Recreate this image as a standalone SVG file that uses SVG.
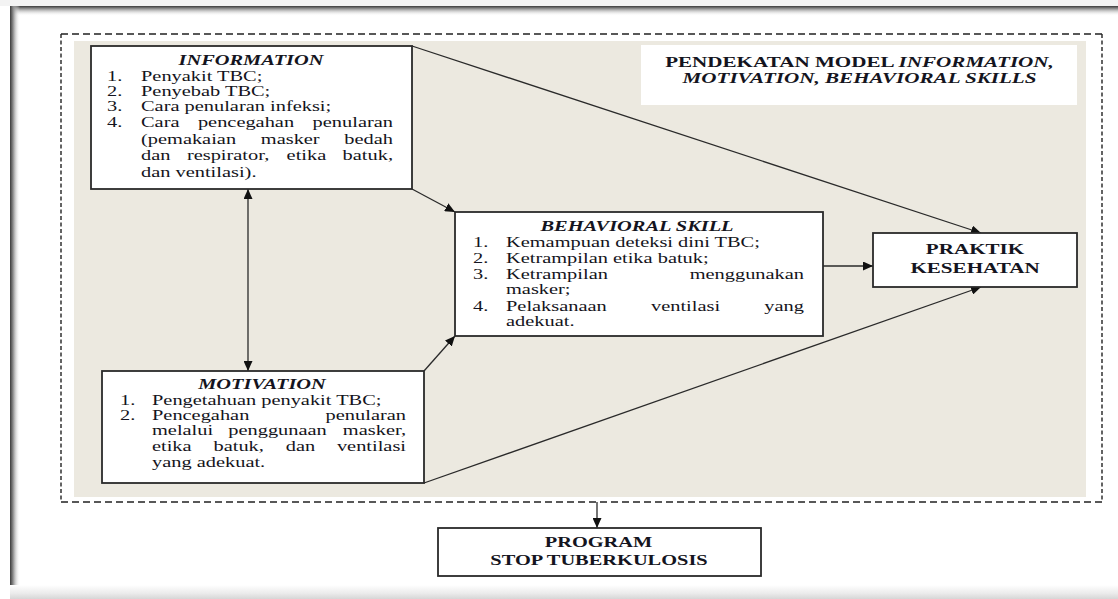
<svg xmlns="http://www.w3.org/2000/svg" width="1118" height="599" viewBox="0 0 1118 599">
<defs>
<style>
.t{font-family:"Liberation Serif","Times New Roman",serif;font-size:15px;fill:#141420;}
.b{font-weight:bold;}
.bi{font-weight:bold;font-style:italic;}
.i{font-style:italic;}
.e{text-anchor:end;}
.m{text-anchor:middle;}
.box{fill:#fff;stroke:#2a2a2a;stroke-width:1.8;}
.ln{stroke:#2a2a2a;stroke-width:1.3;fill:none;}
.dh{stroke:#222;stroke-width:1.4;stroke-dasharray:7 4;}
.dv{stroke:#222;stroke-width:1.4;stroke-dasharray:4 2.5;}
</style>
<marker id="ah" markerUnits="userSpaceOnUse" markerWidth="11" markerHeight="9" refX="10" refY="4.5" orient="auto-start-reverse" viewBox="0 0 11 9">
<path d="M0,0 L10,4.5 L0,9 z" fill="#111"/>
</marker>
<linearGradient id="gTop" x1="0" y1="0" x2="0" y2="1">
<stop offset="0" stop-color="#3a3a3a"/>
<stop offset="0.25" stop-color="#8a8a8a"/>
<stop offset="1" stop-color="#ffffff" stop-opacity="0"/>
</linearGradient>
<linearGradient id="gLeft" x1="0" y1="0" x2="1" y2="0">
<stop offset="0" stop-color="#3a3a3a"/>
<stop offset="0.3" stop-color="#8a8a8a"/>
<stop offset="1" stop-color="#ffffff" stop-opacity="0"/>
</linearGradient>
<linearGradient id="gBot" x1="0" y1="0" x2="0" y2="1">
<stop offset="0" stop-color="#ffffff"/>
<stop offset="0.6" stop-color="#ebebeb"/>
<stop offset="1" stop-color="#d6d6d6"/>
</linearGradient>
</defs>

<g id="page">
<rect x="0" y="0" width="1118" height="599" fill="#ffffff"/>
<rect x="0" y="0" width="1118" height="6" fill="#f3f3f3"/>
<rect x="10" y="6" width="1108" height="10" fill="url(#gTop)"/>
<rect x="10" y="6" width="10" height="593" fill="url(#gLeft)"/>
<rect x="10" y="585" width="1108" height="14" fill="url(#gBot)"/>
</g>

<g id="frame">
<rect x="74" y="41" width="1012" height="456" fill="#ECE9E0"/>
<line class="dh" x1="61" y1="34" x2="1102" y2="34"/>
<line class="dh" x1="61" y1="502" x2="1102" y2="502"/>
<line class="dv" x1="61" y1="34" x2="61" y2="502"/>
<line class="dv" x1="1102" y1="34" x2="1102" y2="502"/>
</g>

<g id="title">
<rect x="641" y="45" width="436" height="60" fill="#ffffff"/>
<text class="t b m" style="font-size:15.5px" transform="translate(859.5 67) scale(1.36 1)">PENDEKATAN MODEL <tspan class="i">INFORMATION,</tspan></text>
<text class="t bi m" style="font-size:15.5px" transform="translate(859.5 83) scale(1.36 1)">MOTIVATION, BEHAVIORAL SKILLS</text>
</g>

<g id="connectors">
<line class="ln" x1="412" y1="46" x2="981" y2="233" marker-end="url(#ah)"/>
<line class="ln" x1="412" y1="189" x2="455" y2="212" marker-end="url(#ah)"/>
<line class="ln" x1="823" y1="266" x2="873" y2="266" marker-end="url(#ah)"/>
<line class="ln" x1="424" y1="371" x2="455" y2="336" marker-end="url(#ah)"/>
<line class="ln" x1="424" y1="483" x2="981" y2="287" marker-end="url(#ah)"/>
<line class="ln" x1="248" y1="189" x2="248" y2="371" marker-start="url(#ah)" marker-end="url(#ah)"/>
<line class="ln" x1="597" y1="502" x2="597" y2="528" marker-end="url(#ah)"/>
</g>

<g id="information">
<rect class="box" x="91" y="46" width="321" height="143"/>
<text class="t bi m" transform="translate(251 65) scale(1.36 1)">INFORMATION</text>
<text class="t" transform="translate(107 81) scale(1.36 1)">1.</text>
<text class="t" transform="translate(141 81) scale(1.36 1)">Penyakit TBC;</text>
<text class="t" transform="translate(107 96) scale(1.36 1)">2.</text>
<text class="t" transform="translate(141 96) scale(1.36 1)">Penyebab TBC;</text>
<text class="t" transform="translate(107 111) scale(1.36 1)">3.</text>
<text class="t" transform="translate(141 111) scale(1.36 1)">Cara penularan infeksi;</text>
<text class="t" transform="translate(107 127) scale(1.36 1)">4.</text>
<text class="t" transform="translate(141 127) scale(1.36 1)">Cara</text>
<text class="t" transform="translate(197.9 127) scale(1.36 1)">pencegahan</text>
<text class="t e" transform="translate(393 127) scale(1.36 1)">penularan</text>
<text class="t" transform="translate(141 144) scale(1.36 1)">(pemakaian</text>
<text class="t" transform="translate(260.8 144) scale(1.36 1)">masker</text>
<text class="t e" transform="translate(393 144) scale(1.36 1)">bedah</text>
<text class="t" transform="translate(141 160) scale(1.36 1)">dan</text>
<text class="t" transform="translate(186.9 160) scale(1.36 1)">respirator,</text>
<text class="t" transform="translate(286.6 160) scale(1.36 1)">etika</text>
<text class="t e" transform="translate(393 160) scale(1.36 1)">batuk,</text>
<text class="t" transform="translate(141 177) scale(1.36 1)">dan ventilasi).</text>
</g>

<g id="behavioral">
<rect class="box" x="455" y="212" width="368" height="124"/>
<text class="t bi m" transform="translate(637 231) scale(1.36 1)">BEHAVIORAL SKILL</text>
<text class="t" transform="translate(473 247) scale(1.36 1)">1.</text>
<text class="t" transform="translate(506 247) scale(1.36 1)">Kemampuan deteksi dini TBC;</text>
<text class="t" transform="translate(473 263) scale(1.36 1)">2.</text>
<text class="t" transform="translate(506 263) scale(1.36 1)">Ketrampilan etika batuk;</text>
<text class="t" transform="translate(473 279) scale(1.36 1)">3.</text>
<text class="t" transform="translate(506 279) scale(1.36 1)">Ketrampilan</text>
<text class="t e" transform="translate(804 279) scale(1.36 1)">menggunakan</text>
<text class="t" transform="translate(506 294) scale(1.36 1)">masker;</text>
<text class="t" transform="translate(473 311) scale(1.36 1)">4.</text>
<text class="t" transform="translate(506 311) scale(1.36 1)">Pelaksanaan</text>
<text class="t" transform="translate(651 311) scale(1.36 1)">ventilasi</text>
<text class="t e" transform="translate(804 311) scale(1.36 1)">yang</text>
<text class="t" transform="translate(506 326) scale(1.36 1)">adekuat.</text>
</g>

<g id="praktik">
<rect class="box" x="873" y="233" width="204" height="54"/>
<text class="t b m" style="font-size:15.5px" transform="translate(975 253.5) scale(1.36 1)">PRAKTIK</text>
<text class="t b m" style="font-size:15.5px" transform="translate(975 272.5) scale(1.36 1)">KESEHATAN</text>
</g>

<g id="motivation">
<rect class="box" x="102" y="371" width="322" height="112"/>
<text class="t bi m" transform="translate(262 388.5) scale(1.36 1)">MOTIVATION</text>
<text class="t" transform="translate(120 404.5) scale(1.36 1)">1.</text>
<text class="t" transform="translate(152 404.5) scale(1.36 1)">Pengetahuan penyakit TBC;</text>
<text class="t" transform="translate(120 419.5) scale(1.36 1)">2.</text>
<text class="t" transform="translate(152 419.5) scale(1.36 1)">Pencegahan</text>
<text class="t e" transform="translate(406 419.5) scale(1.36 1)">penularan</text>
<text class="t" transform="translate(152 435) scale(1.36 1)">melalui</text>
<text class="t" transform="translate(228.3 435) scale(1.36 1)">penggunaan</text>
<text class="t e" transform="translate(406 435) scale(1.36 1)">masker,</text>
<text class="t" transform="translate(152 451) scale(1.36 1)">etika</text>
<text class="t" transform="translate(213.5 451) scale(1.36 1)">batuk,</text>
<text class="t" transform="translate(285.7 451) scale(1.36 1)">dan</text>
<text class="t e" transform="translate(406 451) scale(1.36 1)">ventilasi</text>
<text class="t" transform="translate(152 467) scale(1.36 1)">yang adekuat.</text>
</g>

<g id="program">
<rect class="box" x="438" y="528" width="323" height="48"/>
<text class="t b m" transform="translate(598.5 547) scale(1.36 1)">PROGRAM</text>
<text class="t b m" transform="translate(599 565) scale(1.36 1)">STOP TUBERKULOSIS</text>
</g>
</svg>
